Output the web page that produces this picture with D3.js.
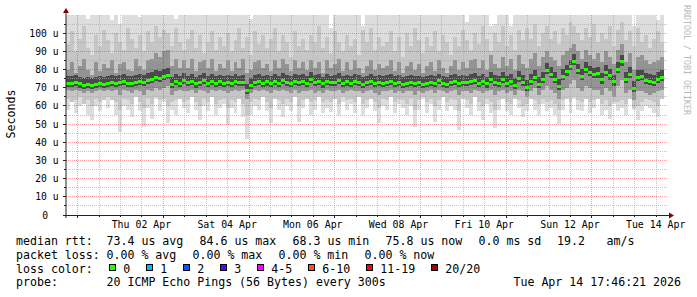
<!DOCTYPE html>
<html>
<head>
<meta charset="utf-8">
<script src="https://cdn.jsdelivr.net/npm/d3@7"></script>
<style>
  body { margin: 0; background: #fff; overflow: hidden; }
  svg text { font-family: "DejaVu Sans Mono", monospace; }
</style>
</head>
<body>
<div id="chart"></div>
<script>
// median rtt per column (us)
var med = [
  72.6, 72.3, 72.8, 72.1, 71.5, 71.9, 71.4, 72.0, 72.3, 71.8,
  72.6, 73.1, 72.4, 72.9, 73.5, 72.6, 72.2, 73.0, 73.7, 72.8,
  73.9, 74.6, 75.8, 75.1, 76.1, 77.0, 71.9, 73.4, 72.5, 74.2,
  72.7, 73.6, 72.1, 72.9, 74.1, 72.4, 73.3, 72.6, 73.2, 72.4,
  73.0, 72.2, 73.5, 72.7, 73.1, 68.3, 71.2, 72.8, 73.6, 72.5,
  73.2, 72.6, 73.4, 72.2, 74.1, 73.0, 72.4, 73.5, 72.8, 73.3,
  72.5, 74.4, 72.9, 73.3, 72.1, 73.6, 72.7, 73.0, 74.0, 72.3,
  73.2, 72.6, 73.5, 72.8, 71.9, 72.7, 73.4, 72.3, 73.1, 72.5,
  72.9, 73.6, 72.2, 72.8, 71.8, 72.4, 73.0, 72.2, 72.7, 71.9,
  72.5, 73.1, 72.3, 73.8, 72.6, 72.0, 72.8, 73.4, 72.2, 73.0,
  72.7, 73.5, 74.0, 72.6, 73.3, 72.1, 74.5, 73.0, 72.4, 74.8,
  72.5, 73.6, 71.4, 75.2, 72.8, 70.3, 73.4, 75.6, 71.8, 74.6,
  79.6, 77.2, 74.8, 70.6, 76.1, 78.7, 81.5, 84.6, 79.3, 76.2,
  80.3, 78.2, 77.1, 77.6, 74.3, 78.4, 76.5, 73.2, 80.1, 84.2,
  74.4, 77.4, 69.8, 75.8, 76.0, 74.2, 73.5, 73.1, 74.4, 75.8
];

// smoke: lowest ping per column
var lo1 = [
  58, 64, 56, 60, 65, 55, 52, 60, 57, 64,
  59, 64, 55, 45.5, 60, 58, 54, 65, 57, 48.5,
  59, 53, 64, 57, 62, 50.5, 58, 55, 64, 59,
  56, 65, 58, 52, 60, 57, 65, 55, 59, 61,
  49.5, 59, 56, 64, 54, 42, 55, 60, 58, 65,
  57, 50.5, 64, 58, 54, 60, 57, 65, 51, 59,
  64, 55, 58, 65, 56, 59, 56.5, 64, 55, 62,
  58, 61, 56, 65, 55, 59, 64, 57, 50.5, 60,
  58, 65, 56, 61, 59, 55, 60, 48.5, 58, 64,
  56, 61, 51, 58, 65, 57, 60, 58, 46.5, 64,
  59, 55, 65, 57, 52, 61, 56, 48, 58, 64,
  57, 55, 64, 59, 54, 57, 65, 58, 55, 61,
  57, 59, 55, 50, 58, 64, 56, 64, 58, 57,
  64, 56, 59, 65, 55, 58, 53, 61, 57, 59,
  55, 64, 58, 52, 57, 60, 59, 56, 54, 64
];

// smoke: lower edge of the mid grey band
var lo2 = [
  64, 62, 63, 65, 61, 63, 60, 64, 62, 63,
  65, 63, 62, 58, 64, 63, 61, 65, 62, 59,
  64, 61, 65, 63, 64, 60, 62, 63, 64, 62,
  63, 65, 62, 60, 64, 62, 65, 61, 63, 64,
  59, 63, 62, 64, 61, 55, 62, 64, 63, 65,
  62, 59, 64, 63, 61, 64, 62, 65, 60, 63,
  64, 62, 63, 65, 62, 63, 62, 64, 61, 65,
  63, 64, 62, 65, 61, 63, 64, 62, 59, 64,
  63, 65, 62, 64, 63, 61, 64, 58, 63, 65,
  62, 64, 60, 63, 65, 62, 64, 63, 57, 64,
  63, 61, 65, 62, 60, 64, 62, 58, 63, 64,
  62, 61, 64, 63, 60, 61, 64, 63, 61, 64,
  62, 63, 61, 58, 63, 64, 62, 65, 63, 62,
  64, 62, 63, 64, 61, 63, 60, 62, 62, 63,
  61, 64, 59, 60, 62, 64, 63, 62, 60, 64
];

// smoke: lower edge of the dark grey band
var lo3 = [
  69, 68, 69, 68, 67, 68, 67, 68, 69, 68,
  69, 68, 69, 66, 69, 68, 67, 69, 68, 66,
  69, 68, 70, 69, 70, 71, 66, 68, 69, 68,
  68, 69, 67, 69, 68, 67, 69, 68, 69, 68,
  67, 68, 69, 68, 69, 64, 67, 69, 68, 69,
  68, 67, 69, 68, 69, 68, 67, 69, 67, 68,
  68, 69, 67, 68, 67, 69, 68, 68, 69, 67,
  68, 69, 68, 68, 67, 68, 69, 67, 66, 68,
  68, 69, 67, 68, 67, 68, 68, 66, 68, 67,
  68, 69, 67, 69, 68, 67, 68, 69, 66, 68,
  68, 67, 69, 68, 67, 68, 69, 66, 68, 69,
  67, 68, 66, 69, 68, 65, 68, 70, 66, 69,
  71, 69, 67, 64, 69, 70, 72, 74, 70, 68,
  71, 70, 69, 69, 66, 70, 68, 65, 71, 74,
  67, 69, 63, 68, 68, 67, 66, 67, 68, 69
];

// smoke: upper edge of the dark grey band
var hi3 = [
  80, 84, 78, 82, 86, 80, 77, 84, 79, 83,
  81, 85, 78, 83, 84, 80, 79, 86, 82, 80,
  85, 86, 89, 87, 90, 91, 82, 86, 81, 85,
  81, 86, 79, 84, 85, 81, 86, 79, 83, 81,
  85, 79, 84, 81, 86, 78, 80, 84, 85, 81,
  83, 79, 85, 81, 86, 83, 79, 85, 81, 84,
  80, 85, 81, 84, 78, 85, 81, 83, 86, 79,
  84, 80, 85, 81, 78, 82, 85, 80, 83, 81,
  82, 85, 79, 84, 78, 82, 84, 80, 83, 78,
  82, 84, 79, 85, 81, 78, 82, 85, 80, 84,
  81, 85, 86, 81, 85, 80, 88, 83, 81, 87,
  82, 86, 80, 88, 83, 81, 86, 89, 82, 87,
  90, 87, 85, 82, 88, 90, 92, 94, 90, 86,
  91, 88, 86, 89, 84, 90, 87, 83, 91, 94,
  84, 89, 80, 87, 88, 85, 83, 84, 85, 87
];

// smoke: upper edge of the mid grey band
var hi2 = [
  94, 101, 90, 97, 104, 92, 88, 99, 93, 102,
  96, 89, 100, 95, 91, 103, 97, 92, 99, 90,
  101, 95, 104, 98, 102, 100, 93, 103, 95, 91,
  97, 102, 92, 99, 89, 95, 101, 91, 98, 93,
  100, 90, 96, 103, 92, 98, 88, 101, 94, 99,
  92, 97, 103, 90, 99, 95, 87, 101, 93, 97,
  91, 99, 95, 104, 92, 98, 89, 101, 95, 90,
  99, 93, 97, 88, 102, 95, 103, 91, 98, 93,
  95, 101, 90, 98, 87, 100, 93, 103, 96, 89,
  98, 93, 101, 90, 99, 95, 88, 98, 93, 102,
  96, 91, 100, 94, 104, 97, 90, 100, 95, 104,
  93, 99, 91, 102, 96, 103, 97, 105, 93, 100,
  104, 97, 101, 94, 103, 99, 106, 104, 100, 96,
  103, 98, 105, 95, 100, 97, 104, 93, 102, 106,
  96, 101, 93, 103, 95, 99, 92, 97, 101, 95
];

// smoke: highest ping per column (110 = off the top)
var hi1 = [
  110, 110, 110, 110, 110, 108, 110, 110, 110, 110,
  110, 107, 110, 105, 110, 110, 110, 110, 109, 110,
  110, 110, 110, 110, 110, 110, 110, 108, 110, 110,
  110, 110, 110, 110, 110, 110, 110, 110, 110, 110,
  110, 110, 110, 110, 110, 110, 108, 110, 110, 110,
  110, 110, 110, 110, 110, 110, 110, 110, 110, 110,
  110, 110, 110, 110, 110, 110, 103, 110, 110, 110,
  110, 110, 110, 110, 104, 110, 110, 110, 110, 110,
  110, 110, 110, 110, 110, 110, 110, 110, 110, 110,
  110, 110, 110, 110, 110, 110, 110, 110, 110, 110,
  106, 110, 110, 110, 110, 110, 104, 105, 110, 110,
  110, 104, 110, 110, 110, 110, 110, 110, 110, 110,
  110, 110, 110, 110, 110, 110, 110, 110, 110, 110,
  110, 110, 110, 110, 110, 110, 110, 110, 110, 110,
  110, 110, 104, 110, 110, 110, 110, 110, 107, 110
];

var yTicks = [0, 10, 20, 30, 40, 50, 60, 70, 80, 90, 100];
var rttStats = [73.4, 84.6, 68.3, 75.8];
var lossStats = [0, 0, 0, 0];
var statNames = ["avg", "max", "min", "now"];
var lossLabels = ["0", "1", "2", "3", "4-5", "6-10", "11-19", "20/20"];
var lossColors = ["#26ff00", "#00b8ff", "#0059ff", "#5e00ff", "#ff00ff", "#ff5500", "#ff0000", "#a00000"];

var W = 697, H = 297;
var x0 = 66, x1 = 666, yTop = 15, yBot = 215;

var start = new Date(Date.UTC(2026, 2, 31, 17, 46, 21));
var end = new Date(Date.UTC(2026, 3, 14, 17, 46, 21));
var stepMs = 8040 * 1000;

var x = d3.scaleUtc().domain([start, end]).range([x0, x1]);
var y = d3.scaleLinear().domain([0, 110]).range([yBot, yTop]).clamp(true);

var svg = d3.select("#chart").append("svg")
    .attr("width", W)
    .attr("height", H);

svg.append("rect").attr("width", W).attr("height", H).attr("fill", "#fff");

// column times
var cols = med.map(function (m, i) {
  return { i: i, t0: new Date(+start + i * stepMs), t1: new Date(+start + (i + 1) * stepMs) };
});

function band(lo, hi, color) {
  var pts = cols.map(function (c) { return { t: c.t0, lo: lo(c.i), hi: hi(c.i) }; });
  var last = cols[cols.length - 1];
  pts.push({ t: last.t1, lo: lo(last.i), hi: hi(last.i) });
  svg.append("path")
      .datum(pts)
      .attr("fill", color)
      .attr("shape-rendering", "crispEdges")
      .attr("d", d3.area()
          .curve(d3.curveStepAfter)
          .x(function (d) { return x(d.t); })
          .y0(function (d) { return y(d.lo); })
          .y1(function (d) { return y(d.hi); }));
}

// smoke, outer to inner
band(function (i) { return lo1[i]; }, function (i) { return hi1[i]; }, "#dddddd");
band(function (i) { return lo2[i]; }, function (i) { return hi2[i]; }, "#c6c6c6");
band(function (i) { return lo3[i]; }, function (i) { return hi3[i]; }, "#939393");
band(function (i) { return med[i] - 2; }, function (i) { return med[i] + 4; }, "#4a4a4a");

// grid
var grid = svg.append("g").attr("shape-rendering", "crispEdges");
var minorX = d3.utcHour.every(12).range(start, end);
var majorX = d3.utcDay.every(2).range(start, end);
var majorSet = majorX.map(function (d) { return +d; });

minorX.filter(function (d) { return majorSet.indexOf(+d) < 0; }).forEach(function (d) {
  var px = Math.round(x(d)) + 0.5;
  grid.append("line").attr("x1", px).attr("x2", px).attr("y1", yTop).attr("y2", yBot)
      .attr("stroke", "rgba(170,170,170,0.7)").attr("stroke-dasharray", "1,1");
  svg.append("line").attr("x1", px).attr("x2", px).attr("y1", yBot).attr("y2", yBot + 2)
      .attr("stroke", "#222").attr("shape-rendering", "crispEdges");
});
majorX.forEach(function (d) {
  var px = Math.round(x(d)) + 0.5;
  grid.append("line").attr("x1", px).attr("x2", px).attr("y1", yTop).attr("y2", yBot)
      .attr("stroke", "rgba(255,0,0,0.38)").attr("stroke-dasharray", "1,1");
  svg.append("line").attr("x1", px).attr("x2", px).attr("y1", yBot).attr("y2", yBot + 3)
      .attr("stroke", "#222").attr("shape-rendering", "crispEdges");
});

d3.range(5, 110, 5).forEach(function (v) {
  var major = v % 10 === 0;
  var py = Math.floor(y(v)) + 0.5;
  grid.append("line").attr("x1", x0).attr("x2", x1 + 2).attr("y1", py).attr("y2", py)
      .attr("stroke", major ? "rgba(255,0,0,0.38)" : "rgba(170,170,170,0.7)")
      .attr("stroke-dasharray", "1,1");
  svg.append("line").attr("x1", x0 - (major ? 3 : 2)).attr("x2", x0).attr("y1", py).attr("y2", py)
      .attr("stroke", "#222").attr("shape-rendering", "crispEdges");
});

// median, coloured by loss (all 0 here)
svg.append("g").selectAll("rect")
    .data(cols)
    .enter()
    .append("rect")
    .attr("x", function (c) { return x(c.t0); })
    .attr("width", function (c) { return x(c.t1) - x(c.t0); })
    .attr("y", function (c) { return y(med[c.i]) - 1.5; })
    .attr("height", 3)
    .attr("fill", lossColors[0])
    .attr("shape-rendering", "crispEdges");

// axes
svg.append("line").attr("x1", x0 - 3).attr("x2", x1 + 3).attr("y1", yBot + 0.5).attr("y2", yBot + 0.5)
    .attr("stroke", "#222").attr("shape-rendering", "crispEdges");
svg.append("line").attr("x1", x0).attr("x2", x0).attr("y1", yBot + 3).attr("y2", yTop - 2)
    .attr("stroke", "#222");
svg.append("path").attr("d", "M63,13L69,13L66,8Z").attr("fill", "#7f0000");
svg.append("path").attr("d", "M669,212.5L669,218.5L674,215.5Z").attr("fill", "#7f0000");

// y labels
svg.append("g").selectAll("text")
    .data(yTicks)
    .enter()
    .append("text")
    .attr("x", function (v) { return v === 0 ? 48 : 58.5; })
    .attr("y", function (v) { return Math.floor(y(v)) + 3.5; })
    .attr("text-anchor", "end")
    .attr("font-size", "9.7px")
    .attr("fill", "#000")
    .text(function (v) { return v === 0 ? "0" : v + " u"; });

// x labels, at noon of even days
var fmt = d3.utcFormat("%a %d %b");
var labelDays = d3.utcDay.range(start, end)
    .filter(function (d) { return d.getUTCDate() % 2 === 0; })
    .map(function (d) { return d3.utcHour.offset(d, 12); });
svg.append("g").selectAll("text")
    .data(labelDays)
    .enter()
    .append("text")
    .attr("x", function (d) { return x(d); })
    .attr("y", 227.5)
    .attr("text-anchor", "middle")
    .attr("font-size", "9.9px")
    .text(function (d) { return fmt(d); });

// vertical titles
svg.append("text")
    .attr("transform", "translate(15,114) rotate(-90)")
    .attr("text-anchor", "middle")
    .attr("font-size", "11.6px")
    .text("Seconds");
svg.append("text")
    .attr("transform", "translate(684,5) rotate(90)")
    .attr("font-size", "8.3px")
    .attr("fill", "#b8b8b8")
    .text("RRDTOOL / TOBI OETIKER");

// legend
var lineY = [245, 258.8, 272.5, 286.3];
var leg = svg.append("g").attr("font-size", "11.6px").attr("fill", "#000");
function txt(px, py, s, anchor) {
  leg.append("text").attr("x", px).attr("y", py)
      .attr("text-anchor", anchor || "start")
      .style("white-space", "pre")
      .text(s);
}

txt(16, lineY[0], "median rtt:");
rttStats.forEach(function (v, k) {
  txt(106.5 + k * 93, lineY[0], v.toFixed(1) + " us " + statNames[k]);
});
txt(478.5, lineY[0], "0.0 ms sd");
txt(557, lineY[0], "19.2");
txt(606.5, lineY[0], "am/s");

txt(16, lineY[1], "packet loss:");
lossStats.forEach(function (v, k) {
  txt(106.5 + k * 86, lineY[1], v.toFixed(2) + " % " + statNames[k]);
});

txt(16, lineY[2], "loss color:");
var bx = 108.7;
lossLabels.forEach(function (lab, k) {
  leg.append("rect")
      .attr("x", Math.round(bx) + 0.5).attr("y", 264.5)
      .attr("width", 6).attr("height", 6)
      .attr("fill", lossColors[k]).attr("stroke", "#000")
      .attr("shape-rendering", "crispEdges");
  txt(bx + 14.6, lineY[2], lab);
  bx += 30 + 7 * lab.length;
});

txt(16, lineY[3], "probe:");
txt(106.5, lineY[3], "20 ICMP Echo Pings (56 Bytes) every 300s");
txt(681, lineY[3], "Tue Apr 14 17:46:21 2026", "end");
</script>
</body>
</html>
